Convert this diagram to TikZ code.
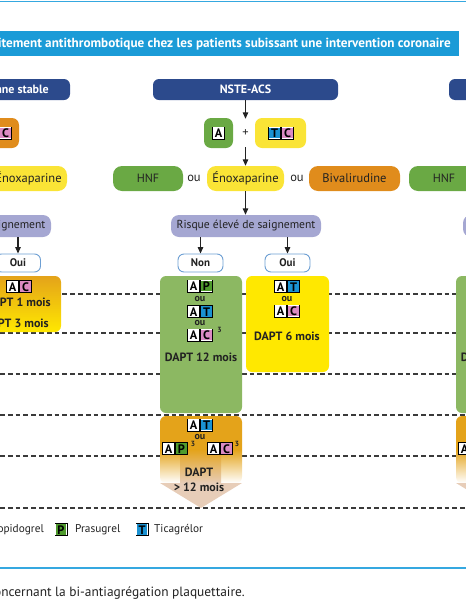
\documentclass[tikz,border=0pt]{standalone}
\usepackage{fontspec}
\setmainfont{PT Sans}
\usetikzlibrary{arrows.meta}
\definecolor{navy}{HTML}{2C4A8C}
\definecolor{titleblue}{HTML}{1B9BD7}
\definecolor{lineblue}{HTML}{35A8E0}
\definecolor{hgreen}{HTML}{6AA944}
\definecolor{dgreen}{HTML}{8CB862}
\definecolor{yellowb}{HTML}{FAE436}
\definecolor{yellowd}{HTML}{FFE800}
\definecolor{orangeb}{HTML}{E08C1C}
\definecolor{orgold}{HTML}{E4A31A}
\definecolor{lav}{HTML}{A5A7D2}
\definecolor{ynb}{HTML}{6D9FD3}
\definecolor{tanc}{HTML}{E7CDB8}
\definecolor{pinkt}{HTML}{DB8AC3}
\definecolor{greent}{HTML}{4F9B2D}
\definecolor{bluet}{HTML}{1A92D2}
\definecolor{txt}{HTML}{222222}
\definecolor{dashc}{HTML}{3A3A3A}
\newcommand{\fsz}[1]{\fontsize{#1}{#1}\selectfont}
\newcommand{\tile}[5]{%
  \fill[black] (#2-6.5,#3-6.5) rectangle (#2+6.5,#3+6.5);
  \fill[white] (#2-5.7,#3-5.7) rectangle (#2+5.7,#3+5.7);
  \fill[#4] (#2-5.1,#3-5.1) rectangle (#2+5.1,#3+5.1);
  \node[tiletxt] (#1) at (#2,#3+0.3) {#5};}
\tikzset{
  hdr/.style={fill=navy, rounded corners=6pt, minimum height=21pt, inner sep=0pt, text=white, font=\bfseries\fsz{12}},
  pill/.style={rounded corners=9pt, minimum height=25pt, inner sep=0pt, text=txt, font=\fsz{12.5}},
  drug/.style={rounded corners=7pt, minimum height=30pt, inner sep=0pt},
  risk/.style={fill=lav, rounded corners=8pt, minimum height=22pt, minimum width=150pt, inner sep=0pt, text=txt, font=\fsz{11.6}},
  yn/.style={draw=ynb, line width=0.9pt, fill=white, rounded corners=6pt, minimum width=45pt, minimum height=18pt, inner sep=0pt, text=txt, font=\bfseries\fsz{11}},
  ou/.style={text=txt, font=\fsz{12.5}, inner sep=0pt},
  oub/.style={text=txt, font=\bfseries\fsz{10}, inner sep=0pt},
  dapt/.style={text=txt, font=\bfseries\fsz{12}, inner sep=0pt},
  daptbox/.style={rounded corners=6pt, inner sep=0pt},
  arr/.style={-{Triangle[width=5.5pt,length=6.5pt]}, line width=1.2pt, draw=txt},
  dashline/.style={draw=dashc, line width=1.2pt, dash pattern=on 4.8pt off 3pt},
  tiletxt/.style={text=black, font=\bfseries\fsz{12.3}, inner sep=0pt},
  supn/.style={text=txt, font=\bfseries\fsz{7.5}, inner sep=0pt},
  legend/.style={text=txt, font=\fsz{11.3}, inner sep=0pt},
}
\begin{document}
\begin{tikzpicture}[x=1pt,y=-1pt]
\useasboundingbox (0,0) rectangle (466,600);
\clip (0,0) rectangle (466,600);
% top line
\coordinate (tl0) at (0,1.5); \coordinate (tl1) at (466,1.5);
\draw[lineblue, line width=1.5pt] (tl0) -- (tl1);
% title bar
\node[fill=titleblue, minimum width=480pt, minimum height=25pt, inner sep=0pt, anchor=east] (tbar) at (459,43.5) {};
\node[anchor=east, text=white, font=\bfseries\fsz{13.18}, inner sep=0pt] (title) at (451,44) {Traitement antithrombotique chez les patients subissant une intervention coronaire};
% headers
\node[hdr, minimum width=130pt] (hdrL) at (5,89.5) {};
\node[anchor=east, text=white, font=\bfseries\fsz{12}, inner sep=0pt] (hdrLt) at (49,89.5) {Maladie coronarienne stable};
\node[hdr, minimum width=185pt] (hdrC) at (245.5,89.5) {NSTE-ACS};
\node[hdr, minimum width=185pt] (hdrR) at (541.5,89.5) {};
% dashed lines
\foreach \yy [count=\i] in {294,333,374,415,456,508} {
  \coordinate (dl\i) at (0,\yy); \coordinate (dr\i) at (466,\yy);
  \draw[dashline] (dl\i) -- (dr\i);}
% antiplatelet row
\node[drug, fill=orangeb, minimum width=51pt] (acL) at (-6.5,133) {};
\tile{acLa}{-7.5}{133}{white}{A}
\tile{acLc}{5.5}{133}{pinkt}{C}
\node[drug, fill=hgreen, minimum width=29pt] (aC) at (218.5,133) {};
\tile{aCa}{218.5}{133}{white}{A}
\node[font=\fsz{12.5}, text=txt, minimum height=28pt, inner sep=0pt] (plus) at (245.5,133) {+};
\node[drug, fill=yellowb, minimum width=51pt] (tcC) at (280.5,133) {};
\tile{tcCt}{274.5}{133}{bluet}{T}
\tile{tcCc}{287.5}{133}{pinkt}{C}
% anticoagulant row
\node[pill, fill=yellowb, minimum width=77pt] (enoL) at (28.5,178.5) {Énoxaparine};
\node[pill, fill=hgreen, minimum width=70pt, font=\fsz{12}] (hnfC) at (148,178.5) {HNF};
\node[ou] (ou1) at (194,178.5) {ou};
\node[pill, fill=yellowb, minimum width=77pt] (enoC) at (245.5,178.5) {Énoxaparine};
\node[ou] (ou2) at (297,178.5) {ou};
\node[pill, fill=orangeb, minimum width=91pt] (bivC) at (354.5,178.5) {Bivalirudine};
\node[pill, fill=hgreen, minimum width=70pt, font=\fsz{12}] (hnfR) at (444,178.5) {HNF};
% risk
\node[risk] (riskL) at (-24,226) {Risque élevé de saignement};
\node[risk] (riskC) at (246,226) {Risque élevé de saignement};
\node[risk] (riskR) at (538,226) {};
% yes / no
\node[yn] (ouiL) at (18,263) {Oui};
\node[yn] (nonC) at (200.5,263) {Non};
\node[yn] (ouiC) at (287.5,263) {Oui};
% arrows
\draw[arr] (hdrC) -- (plus);
\draw[arr] (plus) -- (enoC);
\draw[arr] (enoC.south) -- (enoC.south |- riskC.north);
\draw[arr] (nonC.north |- riskC.south) -- (nonC.north);
\draw[arr] (ouiC.north |- riskC.south) -- (ouiC.north);
\draw[arr] (ouiL.north |- riskL.south) -- (ouiL.north);
% left DAPT box
\node[daptbox, top color=orgold, bottom color=yellowd, minimum width=86pt, minimum height=56pt] (daptL) at (18,304) {};
\tile{l1a}{12.5}{286.5}{white}{A}
\tile{l1c}{25.5}{286.5}{pinkt}{C}
\node[dapt] (l1t) at (18,302) {DAPT 1 mois};
\node[dapt] (l3t) at (16,323) {DAPT 3 mois};
% center green
\node[daptbox, fill=dgreen, minimum width=82pt, minimum height=137pt] (g12C) at (201,344.5) {};
\tile{g1a}{193.5}{286}{white}{A}
\tile{g1p}{206.5}{286}{greent}{P}
\node[oub] (gou1) at (200,299) {ou};
\tile{g2a}{193.5}{311.5}{white}{A}
\tile{g2t}{206.5}{311.5}{bluet}{T}
\node[oub] (gou2) at (200,323) {ou};
\tile{g3a}{193.5}{335}{white}{A}
\tile{g3c}{206.5}{335}{pinkt}{C}
\node[supn] (gs3) at (219.5,330) {3};
\node[dapt] (g12t) at (201,357) {DAPT 12 mois};
% center yellow
\node[daptbox, fill=yellowd, minimum width=83pt, minimum height=96pt] (y6C) at (287.5,324) {};
\tile{y1a}{280.5}{286.5}{white}{A}
\tile{y1t}{293.5}{286.5}{bluet}{T}
\node[oub] (you1) at (287,299) {ou};
\tile{y2a}{280.5}{311}{white}{A}
\tile{y2c}{293.5}{311}{pinkt}{C}
\node[dapt] (y6t) at (287,336) {DAPT 6 mois};
% center long-term arrow box
\fill[white] (160,416) rectangle (242,483);
\node[daptbox, top color=orgold, bottom color=white, middle color=orgold, minimum width=82pt, minimum height=67pt] (o12C) at (201,449.5) {};
\shade[top color=orgold, bottom color=tanc] (180,449.5) rectangle (221,483);
\fill[tanc] (160,483) -- (242,483) -- (201,508) -- cycle;
\tile{o1a}{193.5}{425}{white}{A}
\tile{o1t}{206.5}{425}{bluet}{T}
\node[oub] (oou) at (200,437) {ou};
\tile{o2a}{168.5}{448.5}{white}{A}
\tile{o2p}{181.5}{448.5}{greent}{P}
\node[supn] (os1) at (193,444) {3};
\tile{o3a}{213.5}{448.5}{white}{A}
\tile{o3c}{226.5}{448.5}{pinkt}{C}
\node[supn] (os2) at (237,444) {3};
\node[dapt] (odapt) at (199,472) {DAPT};
\node[dapt] (omois) at (199,487) {> 12 mois};
% right column
\node[daptbox, fill=dgreen, minimum width=82pt, minimum height=137pt] (g12R) at (497,344.5) {};
\node[dapt] (g12Rt) at (497,357) {DAPT 12 mois};
\fill[white] (456,416) rectangle (538,483);
\node[daptbox, top color=orgold, bottom color=white, middle color=orgold, minimum width=82pt, minimum height=67pt] (o12R) at (497,449.5) {};
\shade[top color=orgold, bottom color=tanc] (476,449.5) rectangle (517,483);
\fill[tanc] (456,483) -- (538,483) -- (497,508) -- cycle;
\tile{r2a}{464.5}{448.5}{white}{A}
% legend
\node[legend, anchor=east] (lclo) at (44,530) {Clopidogrel};
\tile{lp}{61}{529.5}{greent}{P}
\node[legend, anchor=west] (lpra) at (75,530) {Prasugrel};
\tile{lt}{142}{529.5}{bluet}{T}
\node[legend, anchor=west] (ltic) at (154,530) {Ticagrélor};
% footer
\coordinate (fl0) at (0,568); \coordinate (fl1) at (466,568);
\draw[lineblue, line width=1.5pt] (fl0) -- (fl1);
\node[legend, anchor=east, font=\fsz{13.4}] (foot) at (245,593) {Recommandations concernant la bi-antiagrégation plaquettaire.};
\end{tikzpicture}
\end{document}
